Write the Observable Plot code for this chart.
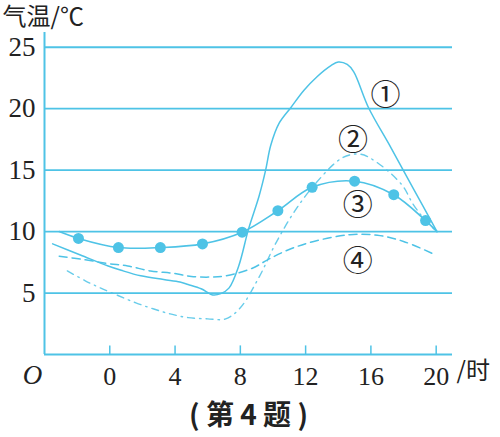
<!DOCTYPE html>
<html>
<head>
<meta charset="utf-8">
<script src="https://cdn.jsdelivr.net/npm/d3@7"></script>
<script src="https://cdn.jsdelivr.net/npm/@observablehq/plot@0.6"></script>
<style>
  html, body { margin: 0; padding: 0; background: #fff; }
</style>
</head>
<body>
<div id="chart"></div>
<script>
// ---- data ----
const xTicks = [0, 4, 8, 12, 16, 20];
const yTicks = [5, 10, 15, 20, 25];

// curve ① (solid)
const hours1 = [-3.5, -1.8, -0.1, 0.7, 1.9, 3.3, 4.3, 4.8, 5.6, 6.3, 6.8, 7.3, 7.9, 8.5, 9.15, 9.55, 9.86, 10.37, 11.1, 11.9, 12.7, 13.55, 14.0, 14.55, 14.95, 15.85, 17.2, 18.6, 20.05];
const temps1 = [9.0, 8.1, 7.2, 6.85, 6.4, 6.1, 5.9, 5.7, 5.35, 4.85, 4.95, 5.4, 7.2, 10.2, 12.9, 15.0, 17.0, 18.8, 20.1, 21.5, 22.6, 23.5, 23.8, 23.6, 23.0, 20.1, 16.9, 13.5, 10.0];

// curve ② (dash-dot)
const hours2 = [-2.6, -1.5, -0.55, 0.5, 1.6, 2.7, 3.7, 4.8, 6.0, 7.1, 8.0, 9.15, 10.15, 11.3, 12.6, 14.25, 15.35, 16.4, 17.9, 18.6, 19.35, 20.05];
const temps2 = [6.8, 6.0, 5.4, 4.8, 4.2, 3.7, 3.3, 3.0, 2.9, 2.9, 3.8, 6.3, 9.0, 11.6, 13.9, 16.0, 16.3, 15.6, 13.8, 12.2, 10.9, 10.0];

// curve ③ (solid with dots)
const hours3 = [-3.1, -1.92, 0.53, 3.1, 5.68, 8.11, 10.3, 12.4, 15.0, 17.4, 19.35, 20.05];
const temps3 = [10.0, 9.44, 8.7, 8.7, 9.0, 9.95, 11.7, 13.6, 14.1, 13.0, 10.9, 10.0];
const dotHours3 = [-1.92, 0.53, 3.1, 5.68, 8.11, 10.3, 12.4, 15.0, 17.4, 19.35];
const dotTemps3 = [9.44, 8.7, 8.7, 9.0, 9.95, 11.7, 13.6, 14.1, 13.0, 10.9];

// curve ④ (dashed)
const hours4 = [-3.1, -1.5, -0.1, 1.1, 2.5, 3.9, 5.0, 6.2, 7.1, 8.7, 9.8, 11.1, 12.5, 14.7, 16.4, 18.0, 19.8];
const temps4 = [8.0, 7.7, 7.4, 7.2, 6.8, 6.6, 6.35, 6.3, 6.4, 7.0, 7.8, 8.6, 9.2, 9.75, 9.7, 9.2, 8.2];

// curve labels
const labelText = ["①", "②", "③", "④"];
const labelHours = [16.9, 14.9, 15.2, 15.2];
const labelTemps = [21.1, 17.4, 12.1, 7.56];

const titleY = "气温/℃";
const titleX = "/时";
const originLabel = "O";
const caption = "( 第 4 题 )";

// ---- build ----
const zip = (xs, ys) => xs.map((x, i) => ({x, y: ys[i]}));
const c1 = zip(hours1, temps1);
const c2 = zip(hours2, temps2);
const c3 = zip(hours3, temps3);
const d3pts = zip(dotHours3, dotTemps3);
const c4 = zip(hours4, temps4);
const labels = labelText.map((t, i) => ({t, x: labelHours[i], y: labelTemps[i]}));

const C = "#4ec3e6";
const CJK = "Noto Sans CJK SC";
const SERIF = "Liberation Serif";

const chart = Plot.plot({
  width: 500,
  height: 437,
  marginTop: 32,
  marginBottom: 83,
  marginLeft: 44,
  marginRight: 48,
  x: {domain: [-4, 21]},
  y: {domain: [0, 26.2]},
  style: {fontFamily: SERIF, fontSize: "26px", background: "#fff", color: "#222"},
  marks: [
    Plot.ruleY(yTicks, {stroke: C, strokeWidth: 1.8}),
    Plot.ruleX([-4], {stroke: C, strokeWidth: 2}),
    Plot.ruleY([0], {stroke: C, strokeWidth: 2}),
    Plot.ruleX(xTicks, {y1: 0, y2: 0.7, stroke: C, strokeWidth: 1.5}),
    Plot.axisY({ticks: yTicks, tickSize: 0, tickPadding: 9, label: null, fontSize: 27, fontFamily: SERIF, fill: "#222"}),
    Plot.axisX({ticks: xTicks, tickSize: 0, tickPadding: 12, label: null, fontSize: 26, fontFamily: SERIF, fill: "#222"}),
    Plot.line(c4, {x: "x", y: "y", curve: "catmull-rom", stroke: C, strokeWidth: 1.5, strokeDasharray: "8,5"}),
    Plot.line(c2, {x: "x", y: "y", curve: "catmull-rom", stroke: C, strokeWidth: 1.4, strokeDasharray: "7,5,1.5,5", strokeOpacity: 0.85}),
    Plot.line(c1, {x: "x", y: "y", curve: "catmull-rom", stroke: C, strokeWidth: 1.5}),
    Plot.line(c3, {x: "x", y: "y", curve: "catmull-rom", stroke: C, strokeWidth: 1.6}),
    Plot.dot(d3pts, {x: "x", y: "y", r: 5.5, fill: C, stroke: "none"}),
    Plot.text(labels, {x: "x", y: "y", text: "t", fontFamily: CJK, fontSize: 30, fill: "#222"}),
    Plot.text([titleY], {frameAnchor: "top-left", dx: -42, dy: -15, textAnchor: "start", lineAnchor: "middle", fontFamily: CJK, fontSize: 24, fill: "#222"}),
    Plot.text([originLabel], {x: -4, y: 0, dx: -12, dy: 21, fontStyle: "italic", fontFamily: SERIF, fontSize: 27, fill: "#222"}),
    Plot.text([titleX], {x: 21, y: 0, dx: 4, dy: 17, textAnchor: "start", fontFamily: CJK, fontSize: 24, fill: "#222"}),
    Plot.text([caption], {frameAnchor: "bottom", dy: 62, lineAnchor: "middle", fontFamily: CJK, fontWeight: "bold", fontSize: 28, fill: "#222"})
  ]
});
document.getElementById("chart").appendChild(chart);
</script>
</body>
</html>
